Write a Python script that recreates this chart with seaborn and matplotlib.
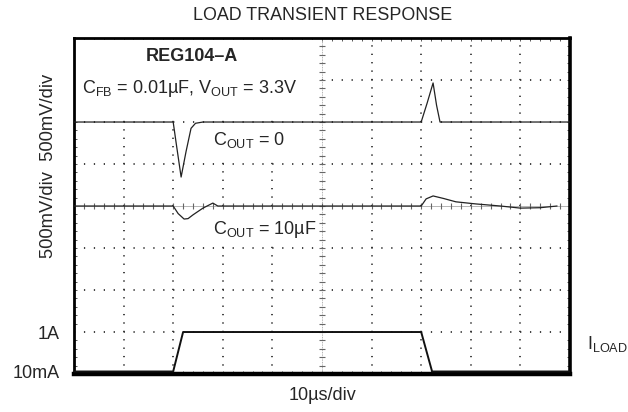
import numpy as np
import pandas as pd
import matplotlib.pyplot as plt
import seaborn as sns
from matplotlib.patches import Rectangle

# time axis in divisions (10us/div), voltages in divisions (500mV/div)
LOAD_T = [0.0, 2.0, 2.2, 7.0, 7.22, 10.0]
LOAD_I = [0.06, 0.06, 1.0, 1.0, 0.06, 0.06]

COUT0_T = [0.0, 2.0, 2.06, 2.16, 2.26, 2.36, 2.45, 2.6, 7.0, 7.12, 7.24, 7.31, 7.38, 10.0]
COUT0_V = [6.0, 6.0, 5.5, 4.69, 5.3, 5.85, 5.97, 6.0, 6.0, 6.45, 6.93, 6.4, 6.0, 6.0]

COUT10_T = [0.0, 2.0, 2.1, 2.22, 2.3, 2.4, 2.6, 2.8, 2.9, 7.0, 7.1, 7.24, 7.45, 7.7,
            8.1, 8.6, 9.0, 9.4, 9.74]
COUT10_V = [4.0, 4.0, 3.82, 3.69, 3.7, 3.79, 3.95, 4.07, 4.0, 4.0, 4.17, 4.24, 4.18, 4.1,
            4.05, 4.0, 3.95, 3.96, 4.0]

sns.set_theme(style='white')
plt.rcParams['font.family'] = ['Liberation Sans', 'DejaVu Sans']
plt.rcParams['mathtext.default'] = 'regular'

fig = plt.figure(figsize=(6.28, 4.12), dpi=100)
ax = fig.add_axes([0.1178, 0.0922, 0.7898, 0.8155])
ax.set_xlim(0, 10)
ax.set_ylim(0, 8)

# scope graticule: dotted lines every division, dots every 0.2 div
for gx in range(1, 10):
    if gx == 5:
        continue
    ax.axvline(gx, color='#333333', lw=1.3, ls=(0, (0.7, 3.95)), zorder=1)
for gy in range(1, 8):
    if gy == 4:
        continue
    ax.axhline(gy, color='#333333', lw=1.3, ls=(0, (0.7, 4.79)), zorder=1)

# center crosshair with tick marks
ax.axvline(5, color='#999999', lw=0.6, ls=(0, (1, 1)), zorder=1)
ax.axhline(4, color='#aaaaaa', lw=0.6, zorder=1)
minor = np.arange(0.2, 10, 0.2)
ax.plot(np.full(39, 5.0), np.arange(0.2, 8, 0.2), ls='none', marker='_', ms=4,
        mew=0.8, color='#666666', zorder=1)
ax.plot(minor, np.full(minor.size, 4.0), ls='none', marker='|', ms=4, mew=0.8,
        color='#666666', zorder=1)

# blanked areas behind the annotations
for x0, y0, w, h in [(0.03, 6.08, 4.92, 1.88), (2.55, 5.05, 2.3, 0.88),
                     (2.7, 3.1, 2.15, 0.75)]:
    ax.add_patch(Rectangle((x0, y0), w, h, facecolor='white', edgecolor='none', zorder=2))

# traces
sns.lineplot(x=COUT0_T, y=COUT0_V, ax=ax, sort=False, estimator=None,
             color='#222222', lw=0.9, zorder=3)
sns.lineplot(x=COUT10_T, y=COUT10_V, ax=ax, sort=False, estimator=None,
             color='#222222', lw=0.9, zorder=3)
sns.lineplot(x=LOAD_T, y=LOAD_I, ax=ax, sort=False, estimator=None,
             color='#111111', lw=1.4, zorder=3)

# frame and border ticks
for side in ['left', 'top']:
    ax.spines[side].set_linewidth(2.0)
ax.spines['right'].set_linewidth(2.6)
ax.spines['bottom'].set_linewidth(3.2)
for sp in ax.spines.values():
    sp.set_color('black')
ax.set_xticks([])
ax.set_xticks(np.arange(0, 10.01, 0.2), minor=True)
ax.set_yticks([0.06, 1.0], ['10mA', '1A'])
ax.set_yticks(np.arange(0, 8.01, 0.2), minor=True)
ax.tick_params(axis='y', which='major', length=0, pad=10, labelsize=13)
ax.tick_params(which='minor', direction='in', length=2.5, width=0.7,
               color='#555555', top=True, right=True, bottom=True, left=True)

# labels
fig.text(0.513, 0.963, 'LOAD TRANSIENT RESPONSE', ha='center', va='center', fontsize=12.9)
fig.text(0.513, 0.041, '10µs/div', ha='center', va='center', fontsize=13)
fig.text(0.077, 0.597, '500mV/div  500mV/div', rotation=90, ha='center', va='center',
         fontsize=13.2)
fig.text(0.934, 0.165, 'I$_{LOAD}$', ha='left', va='center', fontsize=13)

ax.text(2.38, 7.57, 'REG104–A', ha='center', va='center', fontsize=13,
        fontweight='bold', zorder=4)
ax.text(0.16, 6.81, 'C$_{FB}$ = 0.01µF, V$_{OUT}$ = 3.3V', ha='left', va='center',
        fontsize=13, zorder=4)
ax.text(2.8, 5.57, 'C$_{OUT}$ = 0', ha='left', va='center', fontsize=13, zorder=4)
ax.text(2.8, 3.43, 'C$_{OUT}$ = 10µF', ha='left', va='center', fontsize=13, zorder=4)

plt.savefig('out.png', dpi=100)
